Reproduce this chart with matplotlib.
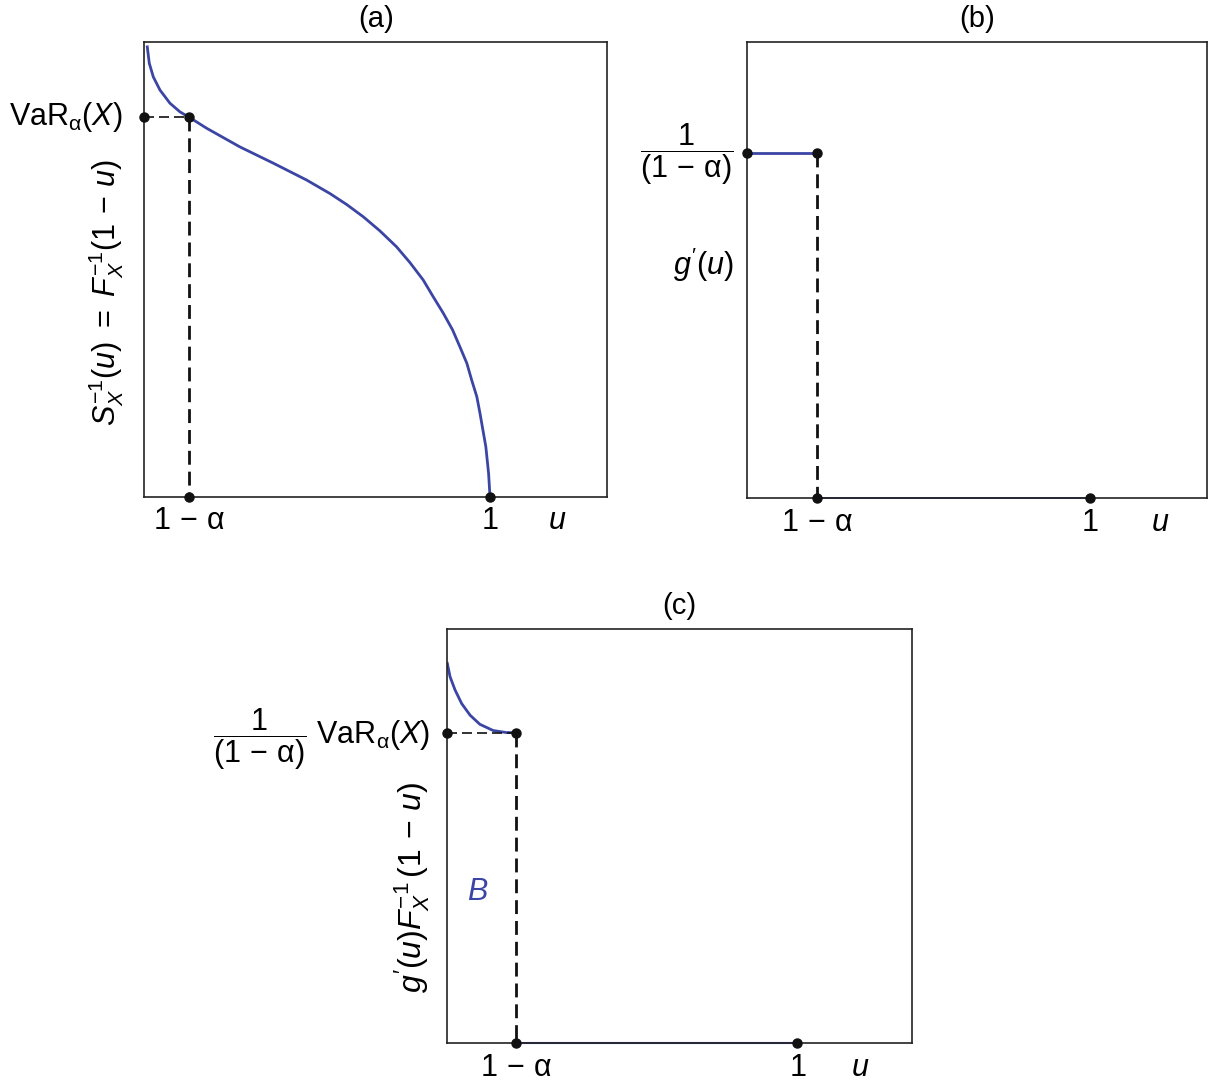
import matplotlib
matplotlib.use("Agg")
import matplotlib.pyplot as plt
from matplotlib.transforms import offset_copy

plt.rcParams['font.family'] = ['Liberation Sans', 'DejaVu Sans']
plt.rcParams['mathtext.fontset'] = 'custom'
plt.rcParams['mathtext.rm'] = 'Liberation Sans'
plt.rcParams['mathtext.it'] = 'Liberation Sans:italic'
plt.rcParams['mathtext.bf'] = 'Liberation Sans:bold'
plt.rcParams['font.size'] = 22

BLUE = '#3b45a3'

# panel (a): quantile curve S_X^{-1}(u)
u_a = [0.0095, 0.0153, 0.0269, 0.0462, 0.0751, 0.104, 0.131, 0.181, 0.277,
       0.374, 0.470, 0.538, 0.586, 0.634, 0.682, 0.730, 0.769, 0.807, 0.836,
       0.865, 0.892, 0.913, 0.933, 0.947, 0.962, 0.971, 0.988, 0.996, 1.0]
s_a = [0.990, 0.954, 0.924, 0.895, 0.866, 0.847, 0.835, 0.811, 0.770,
       0.734, 0.697, 0.667, 0.643, 0.616, 0.585, 0.550, 0.515, 0.477, 0.440,
       0.404, 0.367, 0.330, 0.294, 0.257, 0.220, 0.184, 0.110, 0.051, 0.0]
cut_a = 0.131      # 1 - alpha
var_a = 0.836      # VaR_alpha(X)

# panel (b): distortion derivative g'(u)
cut_b = 0.2025
g_b = 0.758
g_lab_y = 0.512

# panel (c): g'(u) F^{-1}(1-u)
u_c = [0.0, 0.0077, 0.022, 0.041, 0.065, 0.093, 0.131, 0.169, 0.197]
h_c = [0.917, 0.885, 0.853, 0.820, 0.792, 0.770, 0.755, 0.750, 0.750]
cut_c = 0.197
var_c = 0.750

lab_cut = r'$1\,-\,\mathrm{\alpha}$'
lab_one = r'$1$'
lab_u = r'$u$'
lab_var = r'$\mathrm{VaR}_{\mathrm{\alpha}}(X)$'
lab_frac = r'$\dfrac{1}{(1\,-\,\mathrm{\alpha})}$'
lab_frac_var = r'$\dfrac{1}{(1\,-\,\mathrm{\alpha})}\ \mathrm{VaR}_{\mathrm{\alpha}}(X)$'


def style_axes(ax, xmax, cut, upos, title):
    ax.set_xlim(0, xmax)
    ax.set_ylim(0, 1)
    for sp in ax.spines.values():
        sp.set_linewidth(1.2)
        sp.set_color('#222222')
    ax.set_xticks([cut, 1, upos])
    ax.set_xticklabels([lab_cut, lab_one, lab_u])
    ax.tick_params(axis='x', length=0, pad=7, labelsize=22)
    ax.set_yticks([])
    ax.set_title(title, fontsize=21, pad=11)


def dots(ax, xs, ys):
    ax.plot(xs, ys, 'o', color='#111111', ms=6.5, clip_on=False, zorder=5)


def left_label(ax, y, text, dx, dy=0):
    tr = offset_copy(ax.transData, fig=ax.figure, x=-dx, y=dy, units='points')
    ax.text(0, y, text, transform=tr, ha='right', va='center', fontsize=22)


fig = plt.figure(figsize=(12.09, 10.86), dpi=100)

# (a)
ax = fig.add_axes([0.1191, 0.5426, 0.3832, 0.4184])
style_axes(ax, 1.339, cut_a, 1.194, '(a)')
ax.plot(u_a, s_a, color=BLUE, lw=2.0)
ax.plot([0, cut_a], [var_a, var_a], color='#111111', lw=1.2, ls=(0, (6, 3)))
ax.plot([cut_a, cut_a], [var_a, 0], color='#111111', lw=2.0, ls=(0, (5, 2.5)))
dots(ax, [0, cut_a, cut_a, 1], [var_a, var_a, 0, 0])
left_label(ax, var_a, lab_var, 15)
ax.text(-0.082, 0.45, r'$S_X^{-1}(u)\ =\ F_X^{-1}(1\,-\,u)$', transform=ax.transAxes,
        rotation=90, ha='center', va='center', fontsize=22)

# (b)
ax = fig.add_axes([0.6181, 0.5412, 0.3805, 0.4199])
style_axes(ax, 1.342, cut_b, 1.204, '(b)')
ax.plot([0, cut_b], [g_b, g_b], color=BLUE, lw=2.0)
ax.plot([cut_b, 1], [0, 0], color=BLUE, lw=1.3, clip_on=False)
ax.plot([cut_b, cut_b], [g_b, 0], color='#111111', lw=2.0, ls=(0, (5, 2.5)))
dots(ax, [0, cut_b, cut_b, 1], [g_b, g_b, 0, 0])
left_label(ax, g_b, lab_frac, 10, dy=-1.5)
left_label(ax, g_lab_y, r"$g'(u)$", 10)

# (c)
ax = fig.add_axes([0.370, 0.0393, 0.3841, 0.3815])
style_axes(ax, 1.327, cut_c, 1.179, '(c)')
ax.plot(u_c, h_c, color=BLUE, lw=2.0)
ax.plot([cut_c, 1], [0, 0], color=BLUE, lw=1.5, clip_on=False)
ax.plot([0, cut_c], [var_c, var_c], color='#111111', lw=1.2, ls=(0, (6, 3)))
ax.plot([cut_c, cut_c], [var_c, 0], color='#111111', lw=2.0, ls=(0, (5, 2.5)))
dots(ax, [0, cut_c, cut_c, 1], [var_c, var_c, 0, 0])
left_label(ax, var_c, lab_frac_var, 12, dy=-4.5)
ax.text(0.088, 0.366, r'$B$', color=BLUE, fontsize=22, ha='center', va='center')
ax.text(-0.076, 0.377, r"$g'(u)F_X^{-1}\,(1\,-\,u)$", transform=ax.transAxes,
        rotation=90, ha='center', va='center', fontsize=23)

fig.savefig('out.png', dpi=100)
